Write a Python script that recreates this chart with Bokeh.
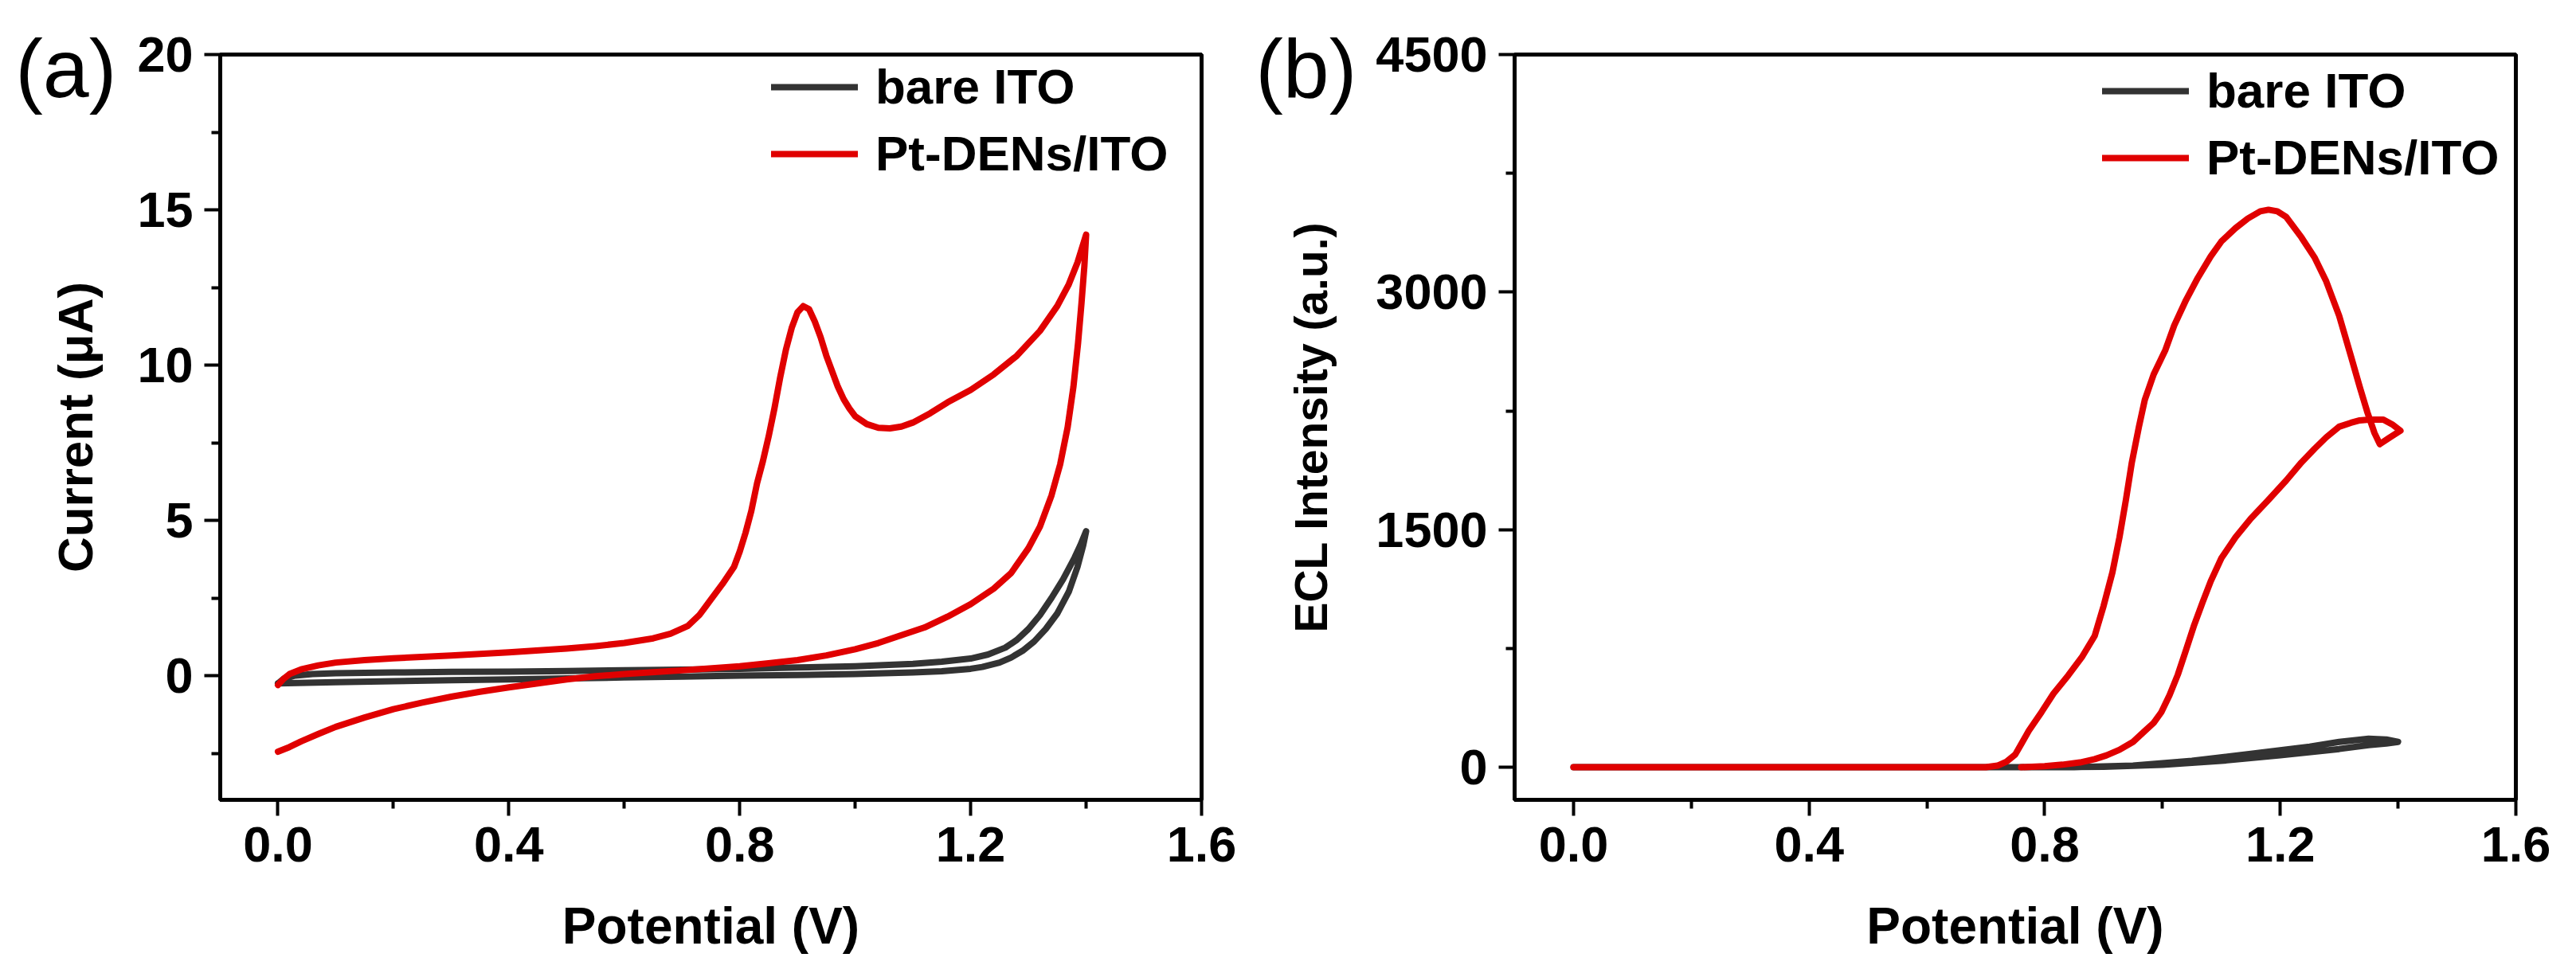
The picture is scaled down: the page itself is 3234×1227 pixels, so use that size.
from bokeh.plotting import figure
from bokeh.layouts import row
from bokeh.models import (Range1d, FixedTicker, NumeralTickFormatter, Legend,
                          LegendItem, Label)
from bokeh.embed import file_html
from bokeh.resources import INLINE

# ---- (a) cyclic voltammetry: potential (V) vs current (uA) ----
cv_bare_v = [0.0, 0.01, 0.03, 0.06, 0.1, 0.2, 0.3, 0.4, 0.5, 0.6, 0.7, 0.8, 0.9, 1.0,
             1.05, 1.1, 1.15, 1.2, 1.23, 1.26, 1.28, 1.3, 1.32, 1.34, 1.36, 1.38, 1.39, 1.4,
             1.395, 1.385, 1.37, 1.35, 1.33, 1.31, 1.29, 1.27, 1.25, 1.22, 1.2, 1.15, 1.1,
             1.0, 0.9, 0.8, 0.7, 0.6, 0.5, 0.4, 0.3, 0.2, 0.1, 0.05, 0.0]
cv_bare_i = [-0.25, -0.1, 0.0, 0.05, 0.08, 0.1, 0.12, 0.13, 0.15, 0.17, 0.19, 0.22, 0.26, 0.3,
             0.34, 0.38, 0.45, 0.55, 0.68, 0.9, 1.15, 1.5, 1.95, 2.5, 3.1, 3.8, 4.2, 4.65,
             4.2, 3.5, 2.7, 2.0, 1.5, 1.1, 0.8, 0.58, 0.42, 0.28, 0.22, 0.14, 0.1,
             0.05, 0.02, 0.0, -0.03, -0.06, -0.09, -0.12, -0.15, -0.18, -0.21, -0.23, -0.25]

cv_pt_v = [0.0, 0.01, 0.02, 0.04, 0.07, 0.1, 0.15, 0.2, 0.3, 0.4, 0.5, 0.55, 0.6, 0.65, 0.68,
           0.71, 0.73, 0.75, 0.77, 0.79, 0.8, 0.81, 0.82, 0.83, 0.84, 0.85, 0.86, 0.87, 0.88,
           0.89, 0.9, 0.91, 0.92, 0.93, 0.94, 0.95, 0.96, 0.97, 0.98, 0.99, 1.0, 1.02, 1.04,
           1.06, 1.08, 1.1, 1.13, 1.16, 1.2, 1.24, 1.28, 1.32, 1.35, 1.37, 1.385, 1.4,
           1.397, 1.392, 1.386, 1.378, 1.368, 1.355, 1.34, 1.32, 1.3, 1.27, 1.24, 1.2, 1.16,
           1.12, 1.08, 1.04, 1.0, 0.95, 0.9, 0.85, 0.8, 0.7, 0.6, 0.55, 0.5, 0.45, 0.4, 0.35,
           0.3, 0.25, 0.2, 0.15, 0.1, 0.07, 0.04, 0.02, 0.0]
cv_pt_i = [-0.3, -0.1, 0.05, 0.2, 0.33, 0.42, 0.5, 0.56, 0.65, 0.75, 0.87, 0.95, 1.05, 1.2, 1.35,
           1.6, 1.95, 2.45, 2.95, 3.5, 4.0, 4.6, 5.3, 6.2, 6.9, 7.7, 8.6, 9.6, 10.5,
           11.2, 11.7, 11.9, 11.8, 11.4, 10.9, 10.3, 9.8, 9.3, 8.9, 8.6, 8.35, 8.1, 7.98,
           7.96, 8.02, 8.15, 8.45, 8.8, 9.2, 9.7, 10.3, 11.1, 11.9, 12.6, 13.3, 14.2,
           13.2, 12.0, 10.7, 9.3, 8.0, 6.8, 5.8, 4.8, 4.1, 3.3, 2.8, 2.3, 1.9,
           1.55, 1.3, 1.05, 0.85, 0.65, 0.5, 0.4, 0.3, 0.17, 0.05, -0.02, -0.12, -0.25, -0.38, -0.52,
           -0.68, -0.87, -1.08, -1.35, -1.65, -1.88, -2.12, -2.3, -2.45]

# ---- (b) ECL intensity (a.u.) vs potential (V) ----
ecl_bare_v = [0.0, 0.5, 0.85, 0.95, 1.05, 1.15, 1.25, 1.3, 1.35, 1.38, 1.4,
              1.38, 1.35, 1.3, 1.2, 1.1, 1.0, 0.9, 0.8]
ecl_bare_i = [0, 0, 0, 10, 40, 85, 130, 160, 180, 175, 160,
              150, 140, 115, 75, 40, 15, 3, 0]

ecl_pt_v = [0.0, 0.3, 0.6, 0.7, 0.72, 0.735, 0.75, 0.773, 0.795, 0.815, 0.84, 0.864, 0.885,
            0.9, 0.915, 0.927, 0.938, 0.948, 0.96, 0.97, 0.985, 1.005, 1.02, 1.04, 1.06, 1.082,
            1.1, 1.124, 1.145, 1.166, 1.18, 1.195, 1.21, 1.236, 1.258, 1.278, 1.3, 1.32, 1.335,
            1.348, 1.36, 1.369, 1.385, 1.404, 1.39, 1.375, 1.351, 1.335, 1.32, 1.3, 1.278,
            1.258, 1.236, 1.21, 1.18, 1.15, 1.124, 1.1, 1.082, 1.068, 1.054, 1.04, 1.026,
            1.012, 0.998, 0.985, 0.97, 0.95, 0.927, 0.905, 0.885, 0.86, 0.83, 0.8, 0.76]
ecl_pt_i = [0, 0, 0, 0, 10, 35, 80, 230, 350, 465, 580, 700, 830,
            1018, 1230, 1452, 1690, 1925, 2150, 2320, 2480, 2635, 2790, 2950, 3090, 3226,
            3320, 3404, 3465, 3510, 3520, 3510, 3475, 3345, 3220, 3068, 2850, 2595, 2400,
            2240, 2110, 2040, 2080, 2125, 2165, 2195, 2195, 2190, 2175, 2150, 2083,
            2010, 1925, 1810, 1688, 1570, 1452, 1320, 1175, 1040, 900, 740, 584,
            455, 347, 280, 229, 160, 110, 75, 51, 30, 16, 6, 0]

# ---- axes ----
x_ticks = [0.0, 0.4, 0.8, 1.2, 1.6]
x_minor = [0.2, 0.6, 1.0, 1.4]
cv_ticks = [0, 5, 10, 15, 20]
cv_minor = [-2.5, 2.5, 7.5, 12.5, 17.5]
ecl_ticks = [0, 1500, 3000, 4500]
ecl_minor = [750, 2250, 3750]

labels = ["bare ITO", "Pt-DENs/ITO"]
BLACK = "#333333"
RED = "#e00000"
FONT = "Liberation Sans"


def style_axes(p, yticks, yminor, yfmt, ylabel, ylabel_size, ylabel_standoff):
    p.grid.visible = False
    p.outline_line_color = "black"
    p.outline_line_width = 5
    p.xaxis.ticker = FixedTicker(ticks=x_ticks, minor_ticks=x_minor)
    p.xaxis.formatter = NumeralTickFormatter(format="0.0")
    p.yaxis.ticker = FixedTicker(ticks=yticks, minor_ticks=yminor)
    p.yaxis.formatter = NumeralTickFormatter(format=yfmt)
    p.xaxis.axis_label = "Potential (V)"
    p.yaxis.axis_label = ylabel
    for ax in (p.xaxis[0], p.yaxis[0]):
        ax.axis_line_width = 5
        ax.axis_line_color = "black"
        ax.major_tick_line_width = 4
        ax.minor_tick_line_width = 4
        ax.major_tick_out = 20
        ax.major_tick_in = 0
        ax.minor_tick_out = 11
        ax.minor_tick_in = 0
        ax.major_label_text_font = FONT
        ax.major_label_text_font_style = "bold"
        ax.major_label_text_font_size = "63px"
        ax.major_label_text_color = "black"
        ax.axis_label_text_font = FONT
        ax.axis_label_text_font_style = "bold"
        ax.axis_label_text_color = "black"
    p.xaxis.major_label_standoff = 14
    p.yaxis.major_label_standoff = 14
    p.xaxis.axis_label_text_font_size = "64px"
    p.xaxis.axis_label_standoff = 42
    p.yaxis.axis_label_text_font_size = ylabel_size
    p.yaxis.axis_label_standoff = ylabel_standoff


def add_legend(p, rends, loc):
    leg = Legend(items=[LegendItem(label=l, renderers=[r]) for l, r in zip(labels, rends)],
                 location=loc, border_line_alpha=0, background_fill_alpha=0,
                 glyph_width=109, glyph_height=70, label_height=70, spacing=13,
                 padding=0, margin=0, label_standoff=22,
                 label_text_font=FONT, label_text_font_style="bold",
                 label_text_font_size="62px", label_text_color="black")
    p.add_layout(leg)


def panel_tag(p, text, x, y):
    # kept in the left side panel so the frame does not clip it
    p.add_layout(Label(x=x, y=y, text=text,
                       text_font=FONT, text_font_size="104px", text_color="black",
                       text_align="left", text_baseline="alphabetic"), "left")


# Left borders are kept wide enough for axis + panel tag; the extra width is
# pulled back with negative margins so both frames sit where they belong.
A_LEFT, B_LEFT = 400, 460

# (a)
pa = figure(width=A_LEFT + 1232 + 52, height=1227,
            x_range=Range1d(-0.1, 1.6), y_range=Range1d(-4, 20),
            output_backend="svg", toolbar_location=None,
            min_border_left=A_LEFT, min_border_right=52, min_border_top=68,
            min_border_bottom=218, margin=(0, 0, 0, 276 - A_LEFT))
style_axes(pa, cv_ticks, cv_minor, "0", "Current (\u03bcA)", "62px", 40)
ra1 = pa.line(cv_bare_v, cv_bare_i, line_color=BLACK, line_width=8,
              line_join="round", line_cap="round")
ra2 = pa.line(cv_pt_v, cv_pt_i, line_color=RED, line_width=8,
              line_join="round", line_cap="round")
add_legend(pa, [ra1, ra2], (692, 776))
panel_tag(pa, "(a)", -0.455, 19.55)

# (b)
pb = figure(width=B_LEFT + 1257 + 76, height=1227,
            x_range=Range1d(-0.1, 1.6), y_range=Range1d(-206, 4500),
            output_backend="svg", toolbar_location=None,
            min_border_left=B_LEFT, min_border_right=76, min_border_top=68,
            min_border_bottom=223, margin=(0, 0, 0, (1901 - B_LEFT) - 1560),
            border_fill_color=None)
style_axes(pb, ecl_ticks, ecl_minor, "0", "ECL Intensity (a.u.)", "57px", 46)
rb1 = pb.line(ecl_bare_v, ecl_bare_i, line_color=BLACK, line_width=8,
              line_join="round", line_cap="round")
rb2 = pb.line(ecl_pt_v, ecl_pt_i, line_color=RED, line_width=8,
              line_join="round", line_cap="round")
add_legend(pb, [rb1, rb2], (738, 771))
panel_tag(pb, "(b)", -0.54, 4410)

layout = row(pa, pb)
open("out.html", "w").write(file_html(layout, INLINE))
